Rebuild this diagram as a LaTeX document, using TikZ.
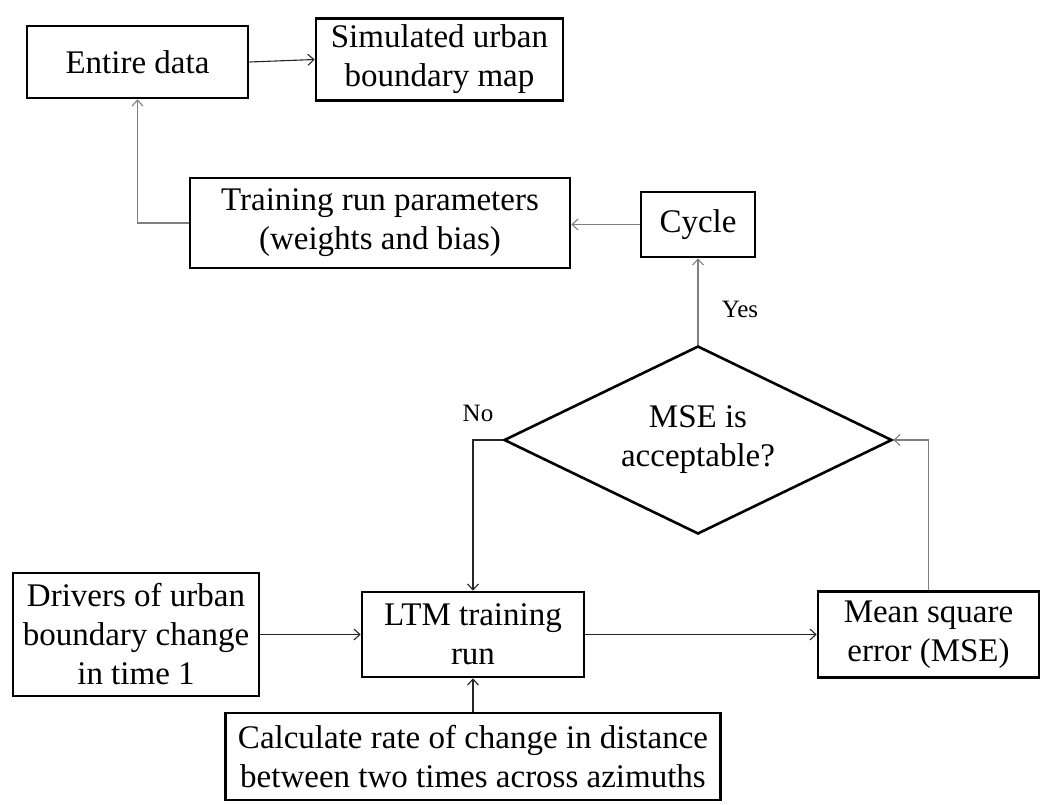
\documentclass[tikz,border=0pt]{standalone}
\usepackage{fontspec}
\setmainfont{Liberation Serif}
\usetikzlibrary{shapes.geometric,arrows.meta}
\begin{document}
\begin{tikzpicture}[x=1pt,y=-1pt,
  box/.style={draw=black,line width=2.6pt,fill=white,align=center,inner sep=0pt,
    font=\fontsize{33}{39}\selectfont},
  decision/.style={draw=black,diamond,aspect=2.06,line width=2.6pt,fill=white,align=center,inner sep=0pt,
    font=\fontsize{33}{39}\selectfont},
  lbl/.style={inner sep=0pt,font=\fontsize{25}{29}\selectfont},
  darklink/.style={line width=1.1pt,draw=black!85,
    -{Straight Barb[length=6pt,width=11pt,line width=1.1pt]}},
  greylink/.style={line width=1.1pt,draw=black!50,
    -{Straight Barb[length=6pt,width=11pt,line width=1.1pt]}}]
\useasboundingbox (0,0) rectangle (1046,804);

% process boxes
\node[box,minimum width=221pt,minimum height=72pt] (entire) at (137.5,62) {Entire data};
\node[box,minimum width=247pt,minimum height=82pt] (sim) at (439.5,59.5) {Simulated urban\\boundary map};
\node[box,minimum width=380pt,minimum height=90pt] (train) at (380,223) {Training run parameters\\(weights and bias)};
\node[box,minimum width=114pt,minimum height=65pt] (cycle) at (698,224.5) {Cycle};
\node[decision,minimum width=388pt,minimum height=188pt] (dec) at (698,440) {MSE is\\acceptable?};
\node[box,minimum width=246pt,minimum height=123pt] (drivers) at (136,634.5) {Drivers of urban\\boundary change\\in time 1};
\node[box,minimum width=222pt,minimum height=85pt] (ltm) at (473,634.5) {LTM training\\run};
\node[box,minimum width=221pt,minimum height=86pt] (err) at (928.5,634.5) {Mean square\\error (MSE)};
\node[box,minimum width=495pt,minimum height=87pt] (rate) at (473,756.5) {Calculate rate of change in distance\\between two times across azimuths};

% branch labels
\node[lbl] (yes) at (740,309) {Yes};
\node[lbl] (no) at (478,413) {No};

% connectors
\draw[darklink] (entire.east) -- (sim.west);
\draw[greylink] (train.west) -| (entire.south);
\draw[greylink] (cycle.west) -- (cycle.west -| train.east);
\draw[greylink] (dec.north) -- (cycle.south);
\draw[darklink] (dec.west) -| (ltm.north);
\draw[darklink] (drivers.east) -- (ltm.west);
\draw[darklink] (ltm.east) -- (err.west);
\draw[greylink] (err.north) |- (dec.east);
\draw[darklink] (rate.north) -- (ltm.south);
\end{tikzpicture}
\end{document}
